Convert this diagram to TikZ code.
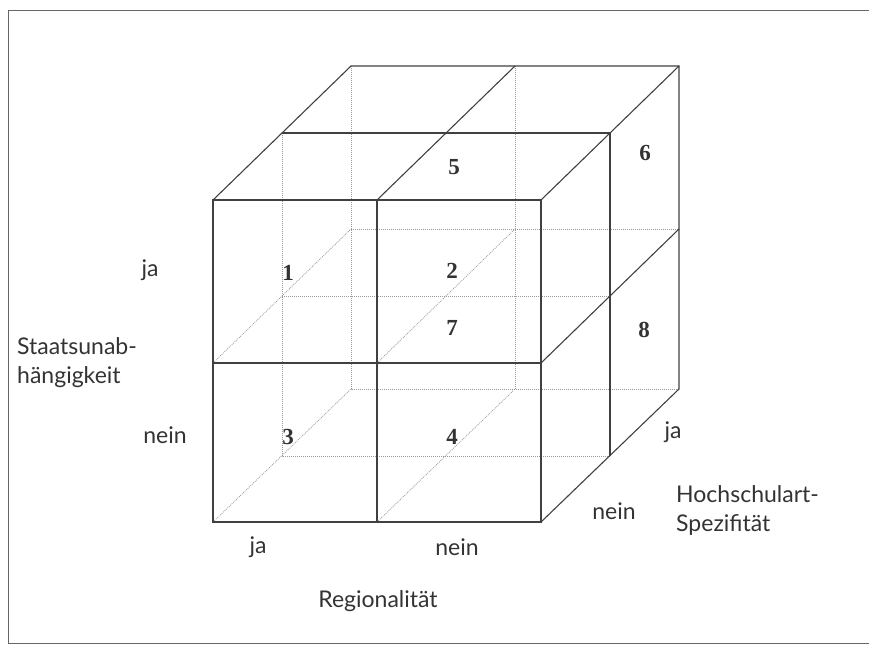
\documentclass[tikz,border=0pt]{standalone}
\usepackage{fontspec}
\setmainfont{Liberation Serif}
\newfontfamily\labelfont{Lato}
\begin{document}
\begin{tikzpicture}[x=1pt,y=-1pt,
  edge/.style={draw=black!75,line width=1.1pt},
  hidden/.style={draw=black!40,line width=0.7pt,dash pattern=on 1pt off 1pt},
  num/.style={font=\fontsize{23}{25}\selectfont\bfseries,text=black!80,inner sep=0pt},
  lab/.style={font=\labelfont\fontsize{23}{29}\selectfont,text=black!80,inner sep=0pt},
  frame/.style={draw=black!60,line width=1pt}]
\useasboundingbox (0,0) rectangle (869,648);
\begin{scope}
\clip (0,0) rectangle (869,648);
\draw[frame] (905,10) -- (8,10) -- (8,643) -- (905,643);
\end{scope}
% corners: front (dx=0), middle (dx=69,dy=-67), back (dx=138,dy=-134)
\coordinate (F1) at (213,200); \coordinate (F2) at (377,200); \coordinate (F3) at (541,200);
\coordinate (F4) at (213,363); \coordinate (F5) at (377,363); \coordinate (F6) at (541,363);
\coordinate (F7) at (213,522); \coordinate (F8) at (377,522); \coordinate (F9) at (541,522);
\coordinate (M1) at (282,133); \coordinate (M3) at (610,133);
\coordinate (M4) at (282,296); \coordinate (M6) at (610,296);
\coordinate (M7) at (282,456); \coordinate (M9) at (610,456);
\coordinate (B1) at (351,66); \coordinate (B2) at (515,66); \coordinate (B3) at (679,66);
\coordinate (B4) at (351,229); \coordinate (B5) at (515,229); \coordinate (B6) at (679,229);
\coordinate (B7) at (351,389); \coordinate (B8) at (515,389); \coordinate (B9) at (679,389);
% hidden lines
\draw[hidden] (B1) -- (B7) -- (B9);
\draw[hidden] (B2) -- (B8);
\draw[hidden] (B4) -- (B6);
\draw[hidden] (M1) -- (M7) -- (M9);
\draw[hidden] (M4) -- (M6);
\draw[hidden] (F4) -- (B4);
\draw[hidden] (F5) -- (B5);
\draw[hidden] (F7) -- (B7);
\draw[hidden] (F8) -- (B8);
% visible edges
\draw[edge] (F1) rectangle (F9);
\draw[edge] (F2) -- (F8);
\draw[edge] (F4) -- (F6);
\draw[edge] (F1) -- (B1) -- (B3) -- (B9) -- (F9);
\draw[edge] (F2) -- (B2);
\draw[edge] (F3) -- (B3);
\draw[edge] (F6) -- (B6);
\draw[edge] (M1) -- (M3) -- (M9);
% numbers
\node[num] (n1) at (288,273) {1};
\node[num] (n2) at (452,271) {2};
\node[num] (n7) at (452,328) {7};
\node[num] (n5) at (454,167) {5};
\node[num] (n6) at (645,153) {6};
\node[num] (n8) at (644,330) {8};
\node[num] (n3) at (288,437) {3};
\node[num] (n4) at (452,437) {4};
% labels
\node[lab] (sja) at (150,270) {ja};
\node[lab] (snein) at (165,435) {nein};
\node[lab,anchor=west,align=left] (stu) at (17,363) {Staatsunab-\\hängigkeit};
\node[lab] (rja) at (258,547) {ja};
\node[lab] (rnein) at (457,547) {nein};
\node[lab] (reg) at (378,601) {Regionalität};
\node[lab] (hja) at (673,432) {ja};
\node[lab] (hnein) at (614,511) {nein};
\node[lab,anchor=west,align=left] (hs) at (676,510) {Hochschulart-\\Spezifität};
\end{tikzpicture}
\end{document}
